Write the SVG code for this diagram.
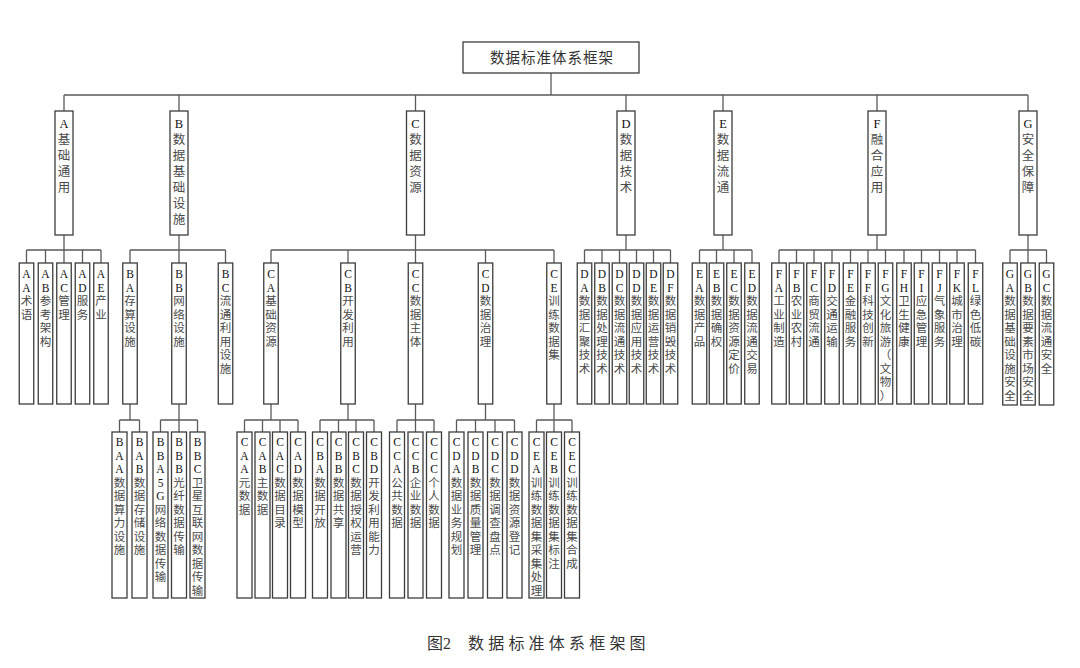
<svg xmlns="http://www.w3.org/2000/svg" width="1080" height="668" viewBox="0 0 1080 668">
<style>
.b{fill:#fff;stroke:#3c3c3c;stroke-width:1.3}
.c{fill:none;stroke:#5a5a5a;stroke-width:1.3}
.t{font-family:"Liberation Serif","Noto Sans CJK SC",serif;fill:#4a4a4a;text-anchor:middle}
.t0{font-size:14.5px;letter-spacing:1px;fill:#333}
.t1{font-size:12.5px}
.t2{font-size:11.5px}
.L{fill:#111}
.cap{font-family:"Liberation Serif","Noto Sans CJK SC",serif;font-size:16px;fill:#333}
</style>
<rect width="1080" height="668" fill="#fff"/>
<g id="connectors" class="c">
<path d="M551,73V95 M64,95H1028 M64,95V111 M179,95V111 M415.5,95V111 M626,95V111 M723,95V111 M877,95V111 M1028,95V111"/>
<path d="M64,235V250 M26.5,250H101 M26.5,250V263 M45.5,250V263 M64,250V263 M82.5,250V263 M101,250V263
M179,235V250 M130,250H225.5 M130,250V263 M179,250V263 M225.5,250V263
M415.5,235V250 M271,250H554 M271,250V263 M348,250V263 M415.5,250V263 M485.5,250V263 M554,250V263
M626,235V250 M584.5,250H670.5 M584.5,250V263 M602,250V263 M619.5,250V263 M636.5,250V263 M653.5,250V263 M670.5,250V263
M723,235V250 M699.5,250H752 M699.5,250V263 M716.5,250V263 M734,250V263 M752,250V263
M877,235V250 M779,250H975.5 M779,250V263 M796.5,250V263 M814,250V263 M832,250V263 M850.5,250V263 M868,250V263 M885.5,250V263 M904,250V263 M921.5,250V263 M939.5,250V263 M957,250V263 M975.5,250V263
M1028,235V250 M1010,250H1046.5 M1010,250V263 M1028,250V263 M1046.5,250V263"/>
<path d="M130,404V420 M119.5,420H139.5 M119.5,420V432 M139.5,420V432
M179,404V420 M160.5,420H197.5 M160.5,420V432 M179,420V432 M197.5,420V432
M271,404V420 M244.5,420H298 M244.5,420V432 M262.5,420V432 M280,420V432 M298,420V432
M348,404V420 M320,420H374 M320,420V432 M338.5,420V432 M356,420V432 M374,420V432
M415.5,404V420 M397,420H434 M397,420V432 M415.5,420V432 M434,420V432
M485.5,404V420 M456.5,420H514.5 M456.5,420V432 M475.5,420V432 M495,420V432 M514.5,420V432
M536.5,420H572 M554,404V432 M536.5,420V432 M572,420V432"/>
</g>
<g id="root"><rect class="b" x="463" y="42" width="176" height="31"/><text class="t t0" x="552" y="63">数据标准体系框架</text></g>
<!-- level 1 -->
<g id="A" transform="translate(64,111)"><rect class="b" x="-9" y="0" width="18" height="124"/><text class="t t1" x="0 0 0 0 0 0 0" y="16.5 32.5 48.5 64.5 80.5 96.5 112.5"><tspan class="L">A</tspan>基础通用</text></g>
<g id="B" transform="translate(179,111)"><rect class="b" x="-9" y="0" width="18" height="124"/><text class="t t1" x="0 0 0 0 0 0 0" y="16.5 32.5 48.5 64.5 80.5 96.5 112.5"><tspan class="L">B</tspan>数据基础设施</text></g>
<g id="C" transform="translate(415.5,111)"><rect class="b" x="-9" y="0" width="18" height="124"/><text class="t t1" x="0 0 0 0 0 0 0" y="16.5 32.5 48.5 64.5 80.5 96.5 112.5"><tspan class="L">C</tspan>数据资源</text></g>
<g id="D" transform="translate(626,111)"><rect class="b" x="-9" y="0" width="18" height="124"/><text class="t t1" x="0 0 0 0 0 0 0" y="16.5 32.5 48.5 64.5 80.5 96.5 112.5"><tspan class="L">D</tspan>数据技术</text></g>
<g id="E" transform="translate(723,111)"><rect class="b" x="-9" y="0" width="18" height="124"/><text class="t t1" x="0 0 0 0 0 0 0" y="16.5 32.5 48.5 64.5 80.5 96.5 112.5"><tspan class="L">E</tspan>数据流通</text></g>
<g id="F" transform="translate(877,111)"><rect class="b" x="-9" y="0" width="18" height="124"/><text class="t t1" x="0 0 0 0 0 0 0" y="16.5 32.5 48.5 64.5 80.5 96.5 112.5"><tspan class="L">F</tspan>融合应用</text></g>
<g id="G" transform="translate(1028,111)"><rect class="b" x="-9" y="0" width="18" height="124"/><text class="t t1" x="0 0 0 0 0 0 0" y="16.5 32.5 48.5 64.5 80.5 96.5 112.5"><tspan class="L">G</tspan>安全保障</text></g>
<!-- level 2 -->
<g id="AA" transform="translate(26.5,263)"><rect class="b" x="-7.25" y="0" width="14.5" height="141"/><text class="t t2" x="0 0 0 0 0 0 0 0 0 0" y="15.2 28.7 42.2 55.7 69.2 82.7 96.2 109.7 123.2 136.7"><tspan class="L">AA</tspan>术语</text></g>
<g id="AB" transform="translate(45.5,263)"><rect class="b" x="-7.25" y="0" width="14.5" height="141"/><text class="t t2" x="0 0 0 0 0 0 0 0 0 0" y="15.2 28.7 42.2 55.7 69.2 82.7 96.2 109.7 123.2 136.7"><tspan class="L">AB</tspan>参考架构</text></g>
<g id="AC" transform="translate(64,263)"><rect class="b" x="-7.25" y="0" width="14.5" height="141"/><text class="t t2" x="0 0 0 0 0 0 0 0 0 0" y="15.2 28.7 42.2 55.7 69.2 82.7 96.2 109.7 123.2 136.7"><tspan class="L">AC</tspan>管理</text></g>
<g id="AD" transform="translate(82.5,263)"><rect class="b" x="-7.25" y="0" width="14.5" height="141"/><text class="t t2" x="0 0 0 0 0 0 0 0 0 0" y="15.2 28.7 42.2 55.7 69.2 82.7 96.2 109.7 123.2 136.7"><tspan class="L">AD</tspan>服务</text></g>
<g id="AE" transform="translate(101,263)"><rect class="b" x="-7.25" y="0" width="14.5" height="141"/><text class="t t2" x="0 0 0 0 0 0 0 0 0 0" y="15.2 28.7 42.2 55.7 69.2 82.7 96.2 109.7 123.2 136.7"><tspan class="L">AE</tspan>产业</text></g>
<g id="BA" transform="translate(130,263)"><rect class="b" x="-7.25" y="0" width="14.5" height="141"/><text class="t t2" x="0 0 0 0 0 0 0 0 0 0" y="15.2 28.7 42.2 55.7 69.2 82.7 96.2 109.7 123.2 136.7"><tspan class="L">BA</tspan>存算设施</text></g>
<g id="BB" transform="translate(179,263)"><rect class="b" x="-7.25" y="0" width="14.5" height="141"/><text class="t t2" x="0 0 0 0 0 0 0 0 0 0" y="15.2 28.7 42.2 55.7 69.2 82.7 96.2 109.7 123.2 136.7"><tspan class="L">BB</tspan>网络设施</text></g>
<g id="BC" transform="translate(225.5,263)"><rect class="b" x="-7.25" y="0" width="14.5" height="141"/><text class="t t2" x="0 0 0 0 0 0 0 0 0 0" y="15.2 28.7 42.2 55.7 69.2 82.7 96.2 109.7 123.2 136.7"><tspan class="L">BC</tspan>流通利用设施</text></g>
<g id="CA" transform="translate(271,263)"><rect class="b" x="-7.25" y="0" width="14.5" height="141"/><text class="t t2" x="0 0 0 0 0 0 0 0 0 0" y="15.2 28.7 42.2 55.7 69.2 82.7 96.2 109.7 123.2 136.7"><tspan class="L">CA</tspan>基础资源</text></g>
<g id="CB" transform="translate(348,263)"><rect class="b" x="-7.25" y="0" width="14.5" height="141"/><text class="t t2" x="0 0 0 0 0 0 0 0 0 0" y="15.2 28.7 42.2 55.7 69.2 82.7 96.2 109.7 123.2 136.7"><tspan class="L">CB</tspan>开发利用</text></g>
<g id="CC" transform="translate(415.5,263)"><rect class="b" x="-7.25" y="0" width="14.5" height="141"/><text class="t t2" x="0 0 0 0 0 0 0 0 0 0" y="15.2 28.7 42.2 55.7 69.2 82.7 96.2 109.7 123.2 136.7"><tspan class="L">CC</tspan>数据主体</text></g>
<g id="CD" transform="translate(485.5,263)"><rect class="b" x="-7.25" y="0" width="14.5" height="141"/><text class="t t2" x="0 0 0 0 0 0 0 0 0 0" y="15.2 28.7 42.2 55.7 69.2 82.7 96.2 109.7 123.2 136.7"><tspan class="L">CD</tspan>数据治理</text></g>
<g id="CE" transform="translate(554,263)"><rect class="b" x="-7.25" y="0" width="14.5" height="141"/><text class="t t2" x="0 0 0 0 0 0 0 0 0 0" y="15.2 28.7 42.2 55.7 69.2 82.7 96.2 109.7 123.2 136.7"><tspan class="L">CE</tspan>训练数据集</text></g>
<g id="DA" transform="translate(584.5,263)"><rect class="b" x="-7.25" y="0" width="14.5" height="141"/><text class="t t2" x="0 0 0 0 0 0 0 0 0 0" y="15.2 28.7 42.2 55.7 69.2 82.7 96.2 109.7 123.2 136.7"><tspan class="L">DA</tspan>数据汇聚技术</text></g>
<g id="DB" transform="translate(602,263)"><rect class="b" x="-7.25" y="0" width="14.5" height="141"/><text class="t t2" x="0 0 0 0 0 0 0 0 0 0" y="15.2 28.7 42.2 55.7 69.2 82.7 96.2 109.7 123.2 136.7"><tspan class="L">DB</tspan>数据处理技术</text></g>
<g id="DC" transform="translate(619.5,263)"><rect class="b" x="-7.25" y="0" width="14.5" height="141"/><text class="t t2" x="0 0 0 0 0 0 0 0 0 0" y="15.2 28.7 42.2 55.7 69.2 82.7 96.2 109.7 123.2 136.7"><tspan class="L">DC</tspan>数据流通技术</text></g>
<g id="DD" transform="translate(636.5,263)"><rect class="b" x="-7.25" y="0" width="14.5" height="141"/><text class="t t2" x="0 0 0 0 0 0 0 0 0 0" y="15.2 28.7 42.2 55.7 69.2 82.7 96.2 109.7 123.2 136.7"><tspan class="L">DD</tspan>数据应用技术</text></g>
<g id="DE" transform="translate(653.5,263)"><rect class="b" x="-7.25" y="0" width="14.5" height="141"/><text class="t t2" x="0 0 0 0 0 0 0 0 0 0" y="15.2 28.7 42.2 55.7 69.2 82.7 96.2 109.7 123.2 136.7"><tspan class="L">DE</tspan>数据运营技术</text></g>
<g id="DF" transform="translate(670.5,263)"><rect class="b" x="-7.25" y="0" width="14.5" height="141"/><text class="t t2" x="0 0 0 0 0 0 0 0 0 0" y="15.2 28.7 42.2 55.7 69.2 82.7 96.2 109.7 123.2 136.7"><tspan class="L">DF</tspan>数据销毁技术</text></g>
<g id="EA" transform="translate(699.5,263)"><rect class="b" x="-7.25" y="0" width="14.5" height="141"/><text class="t t2" x="0 0 0 0 0 0 0 0 0 0" y="15.2 28.7 42.2 55.7 69.2 82.7 96.2 109.7 123.2 136.7"><tspan class="L">EA</tspan>数据产品</text></g>
<g id="EB" transform="translate(716.5,263)"><rect class="b" x="-7.25" y="0" width="14.5" height="141"/><text class="t t2" x="0 0 0 0 0 0 0 0 0 0" y="15.2 28.7 42.2 55.7 69.2 82.7 96.2 109.7 123.2 136.7"><tspan class="L">EB</tspan>数据确权</text></g>
<g id="EC" transform="translate(734,263)"><rect class="b" x="-7.25" y="0" width="14.5" height="141"/><text class="t t2" x="0 0 0 0 0 0 0 0 0 0" y="15.2 28.7 42.2 55.7 69.2 82.7 96.2 109.7 123.2 136.7"><tspan class="L">EC</tspan>数据资源定价</text></g>
<g id="ED" transform="translate(752,263)"><rect class="b" x="-7.25" y="0" width="14.5" height="141"/><text class="t t2" x="0 0 0 0 0 0 0 0 0 0" y="15.2 28.7 42.2 55.7 69.2 82.7 96.2 109.7 123.2 136.7"><tspan class="L">ED</tspan>数据流通交易</text></g>
<g id="FA" transform="translate(779,263)"><rect class="b" x="-7.25" y="0" width="14.5" height="141"/><text class="t t2" x="0 0 0 0 0 0 0 0 0 0" y="15.2 28.7 42.2 55.7 69.2 82.7 96.2 109.7 123.2 136.7"><tspan class="L">FA</tspan>工业制造</text></g>
<g id="FB" transform="translate(796.5,263)"><rect class="b" x="-7.25" y="0" width="14.5" height="141"/><text class="t t2" x="0 0 0 0 0 0 0 0 0 0" y="15.2 28.7 42.2 55.7 69.2 82.7 96.2 109.7 123.2 136.7"><tspan class="L">FB</tspan>农业农村</text></g>
<g id="FC" transform="translate(814,263)"><rect class="b" x="-7.25" y="0" width="14.5" height="141"/><text class="t t2" x="0 0 0 0 0 0 0 0 0 0" y="15.2 28.7 42.2 55.7 69.2 82.7 96.2 109.7 123.2 136.7"><tspan class="L">FC</tspan>商贸流通</text></g>
<g id="FD" transform="translate(832,263)"><rect class="b" x="-7.25" y="0" width="14.5" height="141"/><text class="t t2" x="0 0 0 0 0 0 0 0 0 0" y="15.2 28.7 42.2 55.7 69.2 82.7 96.2 109.7 123.2 136.7"><tspan class="L">FD</tspan>交通运输</text></g>
<g id="FE" transform="translate(850.5,263)"><rect class="b" x="-7.25" y="0" width="14.5" height="141"/><text class="t t2" x="0 0 0 0 0 0 0 0 0 0" y="15.2 28.7 42.2 55.7 69.2 82.7 96.2 109.7 123.2 136.7"><tspan class="L">FE</tspan>金融服务</text></g>
<g id="FF" transform="translate(868,263)"><rect class="b" x="-7.25" y="0" width="14.5" height="141"/><text class="t t2" x="0 0 0 0 0 0 0 0 0 0" y="15.2 28.7 42.2 55.7 69.2 82.7 96.2 109.7 123.2 136.7"><tspan class="L">FF</tspan>科技创新</text></g>
<g id="FG" transform="translate(885.5,263)"><rect class="b" x="-7.25" y="0" width="14.5" height="141"/><text class="t t2" x="0 0 0 0 0 0 0 0 0 0" y="15.2 28.7 42.2 55.7 69.2 82.7 96.2 109.7 123.2 136.7"><tspan class="L">FG</tspan>文化旅游（文物）</text></g>
<g id="FH" transform="translate(904,263)"><rect class="b" x="-7.25" y="0" width="14.5" height="141"/><text class="t t2" x="0 0 0 0 0 0 0 0 0 0" y="15.2 28.7 42.2 55.7 69.2 82.7 96.2 109.7 123.2 136.7"><tspan class="L">FH</tspan>卫生健康</text></g>
<g id="FI" transform="translate(921.5,263)"><rect class="b" x="-7.25" y="0" width="14.5" height="141"/><text class="t t2" x="0 0 0 0 0 0 0 0 0 0" y="15.2 28.7 42.2 55.7 69.2 82.7 96.2 109.7 123.2 136.7"><tspan class="L">FI</tspan>应急管理</text></g>
<g id="FJ" transform="translate(939.5,263)"><rect class="b" x="-7.25" y="0" width="14.5" height="141"/><text class="t t2" x="0 0 0 0 0 0 0 0 0 0" y="15.2 28.7 42.2 55.7 69.2 82.7 96.2 109.7 123.2 136.7"><tspan class="L">FJ</tspan>气象服务</text></g>
<g id="FK" transform="translate(957,263)"><rect class="b" x="-7.25" y="0" width="14.5" height="141"/><text class="t t2" x="0 0 0 0 0 0 0 0 0 0" y="15.2 28.7 42.2 55.7 69.2 82.7 96.2 109.7 123.2 136.7"><tspan class="L">FK</tspan>城市治理</text></g>
<g id="FL" transform="translate(975.5,263)"><rect class="b" x="-7.25" y="0" width="14.5" height="141"/><text class="t t2" x="0 0 0 0 0 0 0 0 0 0" y="15.2 28.7 42.2 55.7 69.2 82.7 96.2 109.7 123.2 136.7"><tspan class="L">FL</tspan>绿色低碳</text></g>
<g id="GA" transform="translate(1010,263)"><rect class="b" x="-7.25" y="0" width="14.5" height="142"/><text class="t t2" x="0 0 0 0 0 0 0 0 0 0" y="15.2 28.7 42.2 55.7 69.2 82.7 96.2 109.7 123.2 136.7"><tspan class="L">GA</tspan>数据基础设施安全</text></g>
<g id="GB" transform="translate(1028,263)"><rect class="b" x="-7.25" y="0" width="14.5" height="142"/><text class="t t2" x="0 0 0 0 0 0 0 0 0 0" y="15.2 28.7 42.2 55.7 69.2 82.7 96.2 109.7 123.2 136.7"><tspan class="L">GB</tspan>数据要素市场安全</text></g>
<g id="GC" transform="translate(1046.5,263)"><rect class="b" x="-7.25" y="0" width="14.5" height="142"/><text class="t t2" x="0 0 0 0 0 0 0 0 0 0" y="15.2 28.7 42.2 55.7 69.2 82.7 96.2 109.7 123.2 136.7"><tspan class="L">GC</tspan>数据流通安全</text></g>
<!-- level 3 -->
<g id="BAA" transform="translate(119.5,432)"><rect class="b" x="-7.5" y="0" width="15" height="166"/><text class="t t2" x="0 0 0 0 0 0 0 0 0 0 0 0" y="14.2 27.7 41.2 54.7 68.2 81.7 95.2 108.7 122.2 135.7 149.2 162.7"><tspan class="L">BAA</tspan>数据算力设施</text></g>
<g id="BAB" transform="translate(139.5,432)"><rect class="b" x="-7.5" y="0" width="15" height="166"/><text class="t t2" x="0 0 0 0 0 0 0 0 0 0 0 0" y="14.2 27.7 41.2 54.7 68.2 81.7 95.2 108.7 122.2 135.7 149.2 162.7"><tspan class="L">BAB</tspan>数据存储设施</text></g>
<g id="BBA" transform="translate(160.5,432)"><rect class="b" x="-7.5" y="0" width="15" height="166"/><text class="t t2" x="0 0 0 0 0 0 0 0 0 0 0 0" y="14.2 27.7 41.2 54.7 68.2 81.7 95.2 108.7 122.2 135.7 149.2 162.7"><tspan class="L">BBA5G</tspan>网络数据传输</text></g>
<g id="BBB" transform="translate(179,432)"><rect class="b" x="-7.5" y="0" width="15" height="166"/><text class="t t2" x="0 0 0 0 0 0 0 0 0 0 0 0" y="14.2 27.7 41.2 54.7 68.2 81.7 95.2 108.7 122.2 135.7 149.2 162.7"><tspan class="L">BBB</tspan>光纤数据传输</text></g>
<g id="BBC" transform="translate(197.5,432)"><rect class="b" x="-7.5" y="0" width="15" height="166"/><text class="t t2" x="0 0 0 0 0 0 0 0 0 0 0 0" y="14.2 27.7 41.2 54.7 68.2 81.7 95.2 108.7 122.2 135.7 149.2 162.7"><tspan class="L">BBC</tspan>卫星互联网数据传输</text></g>
<g id="CAA" transform="translate(244.5,432)"><rect class="b" x="-7.5" y="0" width="15" height="166"/><text class="t t2" x="0 0 0 0 0 0 0 0 0 0 0 0" y="14.2 27.7 41.2 54.7 68.2 81.7 95.2 108.7 122.2 135.7 149.2 162.7"><tspan class="L">CAA</tspan>元数据</text></g>
<g id="CAB" transform="translate(262.5,432)"><rect class="b" x="-7.5" y="0" width="15" height="166"/><text class="t t2" x="0 0 0 0 0 0 0 0 0 0 0 0" y="14.2 27.7 41.2 54.7 68.2 81.7 95.2 108.7 122.2 135.7 149.2 162.7"><tspan class="L">CAB</tspan>主数据</text></g>
<g id="CAC" transform="translate(280,432)"><rect class="b" x="-7.5" y="0" width="15" height="166"/><text class="t t2" x="0 0 0 0 0 0 0 0 0 0 0 0" y="14.2 27.7 41.2 54.7 68.2 81.7 95.2 108.7 122.2 135.7 149.2 162.7"><tspan class="L">CAC</tspan>数据目录</text></g>
<g id="CAD" transform="translate(298,432)"><rect class="b" x="-7.5" y="0" width="15" height="166"/><text class="t t2" x="0 0 0 0 0 0 0 0 0 0 0 0" y="14.2 27.7 41.2 54.7 68.2 81.7 95.2 108.7 122.2 135.7 149.2 162.7"><tspan class="L">CAD</tspan>数据模型</text></g>
<g id="CBA" transform="translate(320,432)"><rect class="b" x="-7.5" y="0" width="15" height="166"/><text class="t t2" x="0 0 0 0 0 0 0 0 0 0 0 0" y="14.2 27.7 41.2 54.7 68.2 81.7 95.2 108.7 122.2 135.7 149.2 162.7"><tspan class="L">CBA</tspan>数据开放</text></g>
<g id="CBB" transform="translate(338.5,432)"><rect class="b" x="-7.5" y="0" width="15" height="166"/><text class="t t2" x="0 0 0 0 0 0 0 0 0 0 0 0" y="14.2 27.7 41.2 54.7 68.2 81.7 95.2 108.7 122.2 135.7 149.2 162.7"><tspan class="L">CBB</tspan>数据共享</text></g>
<g id="CBC" transform="translate(356,432)"><rect class="b" x="-7.5" y="0" width="15" height="166"/><text class="t t2" x="0 0 0 0 0 0 0 0 0 0 0 0" y="14.2 27.7 41.2 54.7 68.2 81.7 95.2 108.7 122.2 135.7 149.2 162.7"><tspan class="L">CBC</tspan>数据授权运营</text></g>
<g id="CBD" transform="translate(374,432)"><rect class="b" x="-7.5" y="0" width="15" height="166"/><text class="t t2" x="0 0 0 0 0 0 0 0 0 0 0 0" y="14.2 27.7 41.2 54.7 68.2 81.7 95.2 108.7 122.2 135.7 149.2 162.7"><tspan class="L">CBD</tspan>开发利用能力</text></g>
<g id="CCA" transform="translate(397,432)"><rect class="b" x="-7.5" y="0" width="15" height="166"/><text class="t t2" x="0 0 0 0 0 0 0 0 0 0 0 0" y="14.2 27.7 41.2 54.7 68.2 81.7 95.2 108.7 122.2 135.7 149.2 162.7"><tspan class="L">CCA</tspan>公共数据</text></g>
<g id="CCB" transform="translate(415.5,432)"><rect class="b" x="-7.5" y="0" width="15" height="166"/><text class="t t2" x="0 0 0 0 0 0 0 0 0 0 0 0" y="14.2 27.7 41.2 54.7 68.2 81.7 95.2 108.7 122.2 135.7 149.2 162.7"><tspan class="L">CCB</tspan>企业数据</text></g>
<g id="CCC" transform="translate(434,432)"><rect class="b" x="-7.5" y="0" width="15" height="166"/><text class="t t2" x="0 0 0 0 0 0 0 0 0 0 0 0" y="14.2 27.7 41.2 54.7 68.2 81.7 95.2 108.7 122.2 135.7 149.2 162.7"><tspan class="L">CCC</tspan>个人数据</text></g>
<g id="CDA" transform="translate(456.5,432)"><rect class="b" x="-7.5" y="0" width="15" height="166"/><text class="t t2" x="0 0 0 0 0 0 0 0 0 0 0 0" y="14.2 27.7 41.2 54.7 68.2 81.7 95.2 108.7 122.2 135.7 149.2 162.7"><tspan class="L">CDA</tspan>数据业务规划</text></g>
<g id="CDB" transform="translate(475.5,432)"><rect class="b" x="-7.5" y="0" width="15" height="166"/><text class="t t2" x="0 0 0 0 0 0 0 0 0 0 0 0" y="14.2 27.7 41.2 54.7 68.2 81.7 95.2 108.7 122.2 135.7 149.2 162.7"><tspan class="L">CDB</tspan>数据质量管理</text></g>
<g id="CDC" transform="translate(495,432)"><rect class="b" x="-7.5" y="0" width="15" height="166"/><text class="t t2" x="0 0 0 0 0 0 0 0 0 0 0 0" y="14.2 27.7 41.2 54.7 68.2 81.7 95.2 108.7 122.2 135.7 149.2 162.7"><tspan class="L">CDC</tspan>数据调查盘点</text></g>
<g id="CDD" transform="translate(514.5,432)"><rect class="b" x="-7.5" y="0" width="15" height="166"/><text class="t t2" x="0 0 0 0 0 0 0 0 0 0 0 0" y="14.2 27.7 41.2 54.7 68.2 81.7 95.2 108.7 122.2 135.7 149.2 162.7"><tspan class="L">CDD</tspan>数据资源登记</text></g>
<g id="CEA" transform="translate(536.5,432)"><rect class="b" x="-7.5" y="0" width="15" height="166"/><text class="t t2" x="0 0 0 0 0 0 0 0 0 0 0 0" y="14.2 27.7 41.2 54.7 68.2 81.7 95.2 108.7 122.2 135.7 149.2 162.7"><tspan class="L">CEA</tspan>训练数据集采集处理</text></g>
<g id="CEB" transform="translate(554,432)"><rect class="b" x="-7.5" y="0" width="15" height="166"/><text class="t t2" x="0 0 0 0 0 0 0 0 0 0 0 0" y="14.2 27.7 41.2 54.7 68.2 81.7 95.2 108.7 122.2 135.7 149.2 162.7"><tspan class="L">CEB</tspan>训练数据集标注</text></g>
<g id="CEC" transform="translate(572,432)"><rect class="b" x="-7.5" y="0" width="15" height="166"/><text class="t t2" x="0 0 0 0 0 0 0 0 0 0 0 0" y="14.2 27.7 41.2 54.7 68.2 81.7 95.2 108.7 122.2 135.7 149.2 162.7"><tspan class="L">CEC</tspan>训练数据集合成</text></g>
<text id="caption" class="cap" x="427" y="649">图2 <tspan x="468" letter-spacing="4.2">数据标准体系框架图</tspan></text>
</svg>
